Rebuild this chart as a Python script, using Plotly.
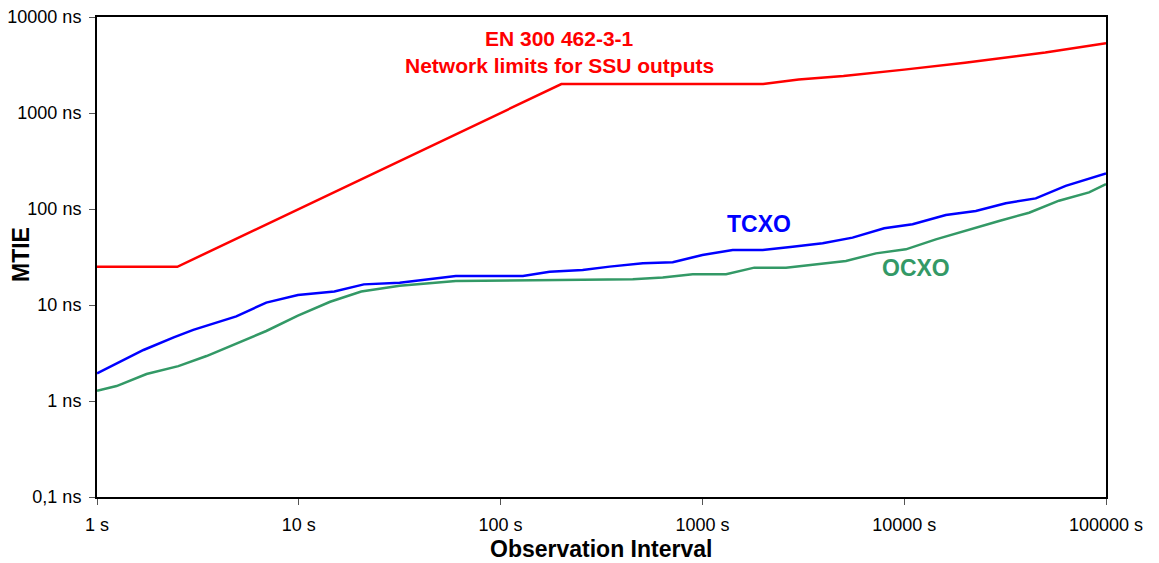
import plotly.graph_objects as go

# Observation interval (s) and MTIE (ns)
limit_tau = [1, 2.5, 200, 2000, 3000, 5000, 10000, 20000, 50000, 100000]
limit_mtie = [25, 25, 2000, 2000, 2230, 2430, 2830, 3340, 4270, 5330]

tcxo_tau = [1, 1.7, 2.4, 3, 4.9, 6.9, 9.9, 15, 21, 31.6, 60, 129, 175, 255, 347, 507,
            713, 1000, 1413, 1990, 2800, 3944, 5547, 7960, 11000, 16080, 22640,
            31870, 44870, 63120, 100000]
tcxo_mtie = [1.94, 3.4, 4.6, 5.5, 7.6, 10.6, 12.7, 13.8, 16.4, 17.1, 20.0, 20.0, 22.2,
             23.1, 25.1, 27.2, 27.9, 33.2, 37.4, 37.4, 40.5, 43.9, 50.3, 62.9, 69.3,
             86.6, 95.3, 115, 129, 174, 235]

ocxo_tau = [1, 1.25, 1.76, 2.53, 3.49, 4.9, 6.9, 9.9, 14.3, 20.4, 31.6, 60, 129, 255,
            452, 636, 895, 1310, 1808, 2596, 5143, 7244, 10190, 14350, 20990, 29520,
            41580, 58480, 82400, 100000]
ocxo_mtie = [1.28, 1.43, 1.91, 2.31, 2.94, 3.99, 5.36, 7.74, 10.8, 13.8, 15.9, 17.8,
             18.2, 18.6, 18.6, 19.3, 20.9, 20.9, 24.5, 24.5, 28.7, 34.5, 38.0, 48.3,
             61.5, 75, 91.5, 122, 149, 182]

x_tickvals = [1, 10, 100, 1000, 10000, 100000]
x_ticktext = ["1 s", "10 s", "100 s", "1000 s", "10000 s", "100000 s"]
y_tickvals = [0.1, 1, 10, 100, 1000, 10000]
y_ticktext = ["0,1 ns", "1 ns", "10 ns", "100 ns", "1000 ns", "10000 ns"]

RED = "#FF0000"
BLUE = "#0000FF"
GREEN = "#339966"
FONT = "Liberation Sans, Arial, sans-serif"

fig = go.Figure()
fig.add_trace(go.Scatter(x=limit_tau, y=limit_mtie, mode="lines",
                         line=dict(color=RED, width=2.5), name="EN 300 462-3-1"))
fig.add_trace(go.Scatter(x=tcxo_tau, y=tcxo_mtie, mode="lines",
                         line=dict(color=BLUE, width=2.5), name="TCXO"))
fig.add_trace(go.Scatter(x=ocxo_tau, y=ocxo_mtie, mode="lines",
                         line=dict(color=GREEN, width=2.5), name="OCXO"))

fig.add_annotation(x=2.292, y=3.771, xref="x", yref="y",
                   text="<b>EN 300 462-3-1</b>", showarrow=False,
                   font=dict(family=FONT, size=21, color=RED))
fig.add_annotation(x=2.292, y=3.50, xref="x", yref="y",
                   text="<b>Network limits for SSU outputs</b>", showarrow=False,
                   font=dict(family=FONT, size=21, color=RED))
fig.add_annotation(x=3.282, y=1.844, xref="x", yref="y",
                   text="<b>TCXO</b>", showarrow=False,
                   font=dict(family=FONT, size=23, color=BLUE))
fig.add_annotation(x=4.059, y=1.385, xref="x", yref="y",
                   text="<b>OCXO</b>", showarrow=False,
                   font=dict(family=FONT, size=23, color=GREEN))

# axis titles (positions given in page pixels, converted below)
fig.add_annotation(x=601, y=549, xref="paper", yref="paper",
                   xanchor="center", yanchor="middle",
                   text="<b>Observation Interval</b>", showarrow=False,
                   font=dict(family=FONT, size=23, color="black"))
fig.add_annotation(x=21, y=255, xref="paper", yref="paper", textangle=-90,
                   xanchor="center", yanchor="middle",
                   text="<b>MTIE</b>", showarrow=False,
                   font=dict(family=FONT, size=23, color="black"))

axis_common = dict(showgrid=False, zeroline=False, showline=True, linecolor="black",
                   linewidth=2, mirror=True, ticks="outside", ticklen=6,
                   tickcolor="#555555", tickwidth=1, automargin=False,
                   ticklabeloverflow="allow",
                   tickfont=dict(family=FONT, size=18, color="black"))

fig.update_xaxes(type="log", range=[0, 5], tickvals=x_tickvals, ticktext=x_ticktext,
                 ticklabelstandoff=4, **axis_common)
fig.update_yaxes(type="log", range=[-1, 4], tickvals=y_tickvals, ticktext=y_ticktext,
                 ticklabelstandoff=4, **axis_common)

# the page body has an 8 px margin; plot area wanted at page x 97..1106, y 17..497
OFF = 8
W, H = 1159, 563
L, R, T, B = 97 - OFF, 1159 + OFF - 1106, 17 - OFF, 563 + OFF - 497
fig.update_layout(width=W, height=H, showlegend=False,
                  margin=dict(l=L, r=R, t=T, b=B),
                  plot_bgcolor="white", paper_bgcolor="white",
                  font=dict(family=FONT))

for ann in fig.layout.annotations:
    if ann.xref == "paper":
        ann.x = (ann.x - OFF - L) / (W - L - R)
        ann.y = (H - B - (ann.y - OFF)) / (H - T - B)

fig.write_html("out.html")
